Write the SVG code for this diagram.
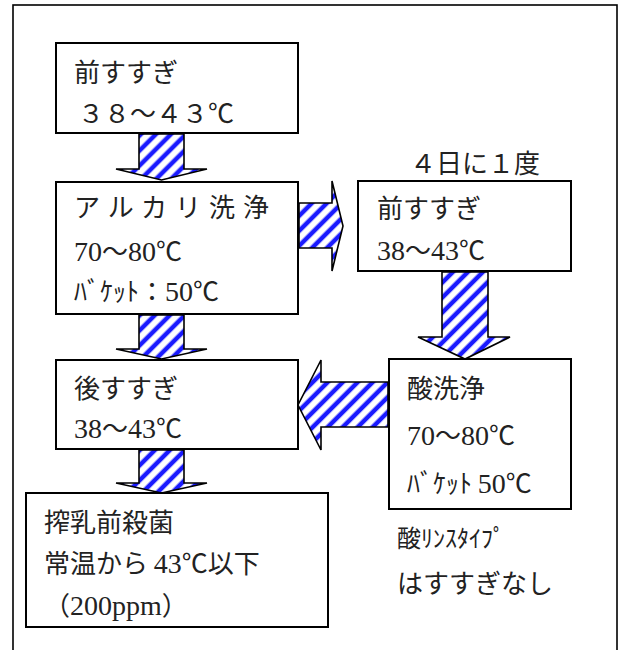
<svg xmlns="http://www.w3.org/2000/svg" width="624" height="650" viewBox="0 0 624 650">
<defs>
<pattern id="stripes" patternUnits="userSpaceOnUse" width="10.6" height="10.6" patternTransform="rotate(45)">
<rect x="0" y="0" width="10.6" height="10.6" fill="#ffffff"/>
<rect x="1.5" y="0" width="4.5" height="10.6" fill="#1a1aff"/>
</pattern>
</defs>
<style>
.frame{fill:#ffffff;stroke:#000000;stroke-width:1.6}
.box{fill:#ffffff;stroke:#000000;stroke-width:2}
.arrow{fill:url(#stripes);stroke:#000000;stroke-width:1.6;stroke-linejoin:miter}
.t{font-family:"Noto Sans CJK JP",sans-serif;font-size:26px;fill:#222222}
.s{font-family:"Noto Sans CJK JP",sans-serif;font-size:24px;fill:#222222}
.n{font-family:"Liberation Serif",serif;font-size:28px}
</style>
<rect x="0" y="0" width="624" height="650" fill="#ffffff"/>
<rect class="frame" x="13" y="5" width="604" height="660"/>
<g id="connectors">
<polygon class="arrow" points="139,134 184,134 184,169 207,169 161.5,180 116,169 139,169"/>
<polygon class="arrow" points="139,315 184,315 184,349 207,349 161.5,359 116,349 139,349"/>
<polygon class="arrow" points="139,450 184,450 184,483 207,483 161.5,493 116,483 139,483"/>
<polygon class="arrow" points="299,203 332,203 332,181 343,226 332,271 332,248 299,248"/>
<polygon class="arrow" points="442,272 488,272 488,337 510,337 465,359 418,337 442,337"/>
<polygon class="arrow" points="388,382 321,382 321,360 298,405 321,450 321,427 388,427"/>
</g>
<g id="node-maesusugi1">
<rect class="box" x="56" y="43" width="242" height="90"/>
<text class="t" x="74" y="82">前すすぎ</text>
<text class="t" x="78" y="123">３８～４３℃</text>
</g>
<g id="node-alkali">
<rect class="box" x="56" y="182" width="242" height="132"/>
<text class="t" x="74" y="217" letter-spacing="8">アルカリ洗浄</text>
<text class="t" x="74" y="261"><tspan class="n">70</tspan>～<tspan class="n">80</tspan>℃</text>
<text class="t" x="74" y="301">ﾊﾞｹｯﾄ：<tspan class="n">50</tspan>℃</text>
</g>
<g id="node-atosusugi">
<rect class="box" x="56" y="360" width="242" height="89"/>
<text class="t" x="74" y="398">後すすぎ</text>
<text class="t" x="74" y="438"><tspan class="n">38</tspan>～<tspan class="n">43</tspan>℃</text>
</g>
<g id="node-sakunyu">
<rect class="box" x="26" y="493" width="302" height="134"/>
<text class="t" x="44" y="532">搾乳前殺菌</text>
<text class="t" x="44" y="573">常温から <tspan class="n">43</tspan>℃以下</text>
<text class="t" x="44" y="615">（<tspan class="n">200ppm</tspan>）</text>
</g>
<g id="label-4days">
<text class="t" x="410" y="173">４日に１度</text>
</g>
<g id="node-maesusugi2">
<rect class="box" x="358" y="181" width="213" height="90"/>
<text class="t" x="377" y="218">前すすぎ</text>
<text class="t" x="377" y="260"><tspan class="n">38</tspan>～<tspan class="n">43</tspan>℃</text>
</g>
<g id="node-sansenjo">
<rect class="box" x="389" y="359" width="182" height="150"/>
<text class="t" x="407" y="398">酸洗浄</text>
<text class="t" x="407" y="445"><tspan class="n">70</tspan>～<tspan class="n">80</tspan>℃</text>
<text class="t" x="407" y="493">ﾊﾞｹｯﾄ <tspan class="n">50</tspan>℃</text>
</g>
<g id="label-rinse">
<text class="s" x="397" y="547">酸ﾘﾝｽﾀｲﾌﾟ</text>
<text class="t" x="397" y="593">はすすぎなし</text>
</g>
</svg>
